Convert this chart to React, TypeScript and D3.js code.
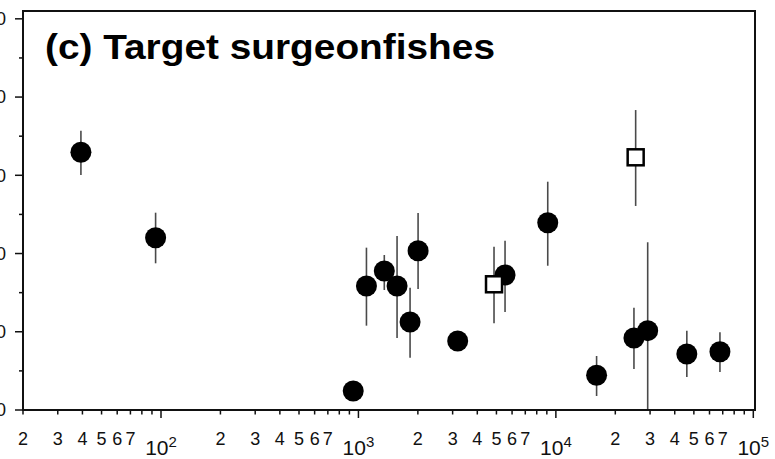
import React from "react";
import * as d3 from "d3";

const W = 775;
const H = 459;

const titleText = "(c) Target surgeonfishes";

// filled circles: x (log), y, error low, error high
const circleX = [39.3, 93.9, 941, 1098, 1352, 1569, 1826, 2005, 3182, 5528, 9096, 16080, 24860, 29180, 46060, 67770];
const circleY = [32.94, 22.02, 2.43, 15.85, 17.77, 15.85, 11.25, 20.36, 8.82, 17.26, 23.94, 4.44, 9.2, 10.14, 7.16, 7.45];
const circleLo = [30.04, 18.75, 1.9, 10.78, 15.34, 9.2, 6.69, 15.47, 8.2, 12.53, 18.44, 1.79, 5.24, 0, 4.22, 4.86];
const circleHi = [35.7, 25.22, 3.0, 20.75, 19.81, 22.24, 15.63, 25.18, 9.5, 21.64, 29.18, 6.9, 13.08, 21.44, 10.14, 9.93];

// open squares
const squareX = [4861, 25360];
const squareY = [16.07, 32.3];
const squareLo = [11.08, 26.08];
const squareHi = [20.87, 38.34];

const yTicks = [0, 10, 20, 30, 40, 50];
const yMinorTicks = [5, 15, 25, 35, 45];
const xMajorExp = [2, 3, 4, 5];
const xMinorMult = [2, 3, 4, 5, 6, 7, 8, 9];
const xLabeledMult = [2, 3, 4, 5, 6, 7];

export default function App() {
  const left = 23, right = 755, top = 11, bottom = 410;
  const x = d3.scaleLog().domain([20, 1.02e5]).range([left, right]);
  const y = d3.scaleLinear().domain([0, 51]).range([bottom, top]);

  const minorTicks: number[] = [];
  for (let e = 1; e <= 4; e++) {
    for (const m of xMinorMult) {
      const v = m * Math.pow(10, e);
      if (v >= 20 && v <= 1.02e5) minorTicks.push(v);
    }
  }
  const labeledMinor = minorTicks.filter((v) => {
    const m = Math.round(v / Math.pow(10, Math.floor(Math.log10(v) + 1e-9)));
    return xLabeledMult.includes(m);
  });

  const font = "'Liberation Sans', Arial, Helvetica, sans-serif";
  const circles = circleX.map((cx, i) => ({ cx, cy: circleY[i], lo: circleLo[i], hi: circleHi[i] }));
  const squares = squareX.map((cx, i) => ({ cx, cy: squareY[i], lo: squareLo[i], hi: squareHi[i] }));
  const all = [...circles, ...squares];

  return (
    <svg width={W} height={H} style={{ position: "absolute", left: 0, top: 0, background: "#fff" }} fontFamily={font}>
      <rect x={0} y={0} width={W} height={H} fill="#fff" />
      {/* error bars */}
      {all.map((d, i) => (
        <line key={"e" + i} x1={x(d.cx)} x2={x(d.cx)} y1={y(d.lo)} y2={y(d.hi)} stroke="#4a4a4a" strokeWidth={1.6} />
      ))}
      {circles.map((d, i) => (
        <circle key={"c" + i} cx={x(d.cx)} cy={y(d.cy)} r={10.5} fill="#000" />
      ))}
      {squares.map((d, i) => (
        <rect key={"s" + i} x={x(d.cx) - 8} y={y(d.cy) - 8} width={16} height={16} fill="#fff" stroke="#000" strokeWidth={2.5} />
      ))}
      {/* frame */}
      <rect x={left} y={top} width={right - left} height={bottom - top} fill="none" stroke="#111" strokeWidth={2} />
      {/* y ticks */}
      {yTicks.map((t) => (
        <g key={"yt" + t}>
          <line x1={15} x2={left} y1={y(t)} y2={y(t)} stroke="#111" strokeWidth={1.5} />
          <text x={6} y={y(t)} dy="0.35em" textAnchor="end" fontSize={18} fill="#111">{t}</text>
        </g>
      ))}
      {yMinorTicks.map((t) => (
        <line key={"ym" + t} x1={19} x2={left} y1={y(t)} y2={y(t)} stroke="#111" strokeWidth={1.5} />
      ))}
      {/* x ticks */}
      {minorTicks.map((v) => (
        <line key={"xm" + v} x1={x(v)} x2={x(v)} y1={bottom} y2={bottom + 4.5} stroke="#111" strokeWidth={1.5} />
      ))}
      {labeledMinor.map((v) => (
        <text key={"xl" + v} x={x(v)} y={445} textAnchor="middle" fontSize={18} fill="#111">
          {Math.round(v / Math.pow(10, Math.floor(Math.log10(v) + 1e-9)))}
        </text>
      ))}
      {xMajorExp.map((e) => (
        <g key={"xM" + e}>
          <line x1={x(Math.pow(10, e))} x2={x(Math.pow(10, e))} y1={bottom} y2={bottom + 8} stroke="#111" strokeWidth={1.5} />
          <text x={x(Math.pow(10, e))} y={455} textAnchor="middle" fontSize={21} fill="#111">
            10<tspan fontSize={15} dy={-8}>{e}</tspan>
          </text>
        </g>
      ))}
      <text x={45} y={59} fontSize={35} fontWeight="bold" fill="#000" textLength={450} lengthAdjust="spacingAndGlyphs">
        {titleText}
      </text>
    </svg>
  );
}
